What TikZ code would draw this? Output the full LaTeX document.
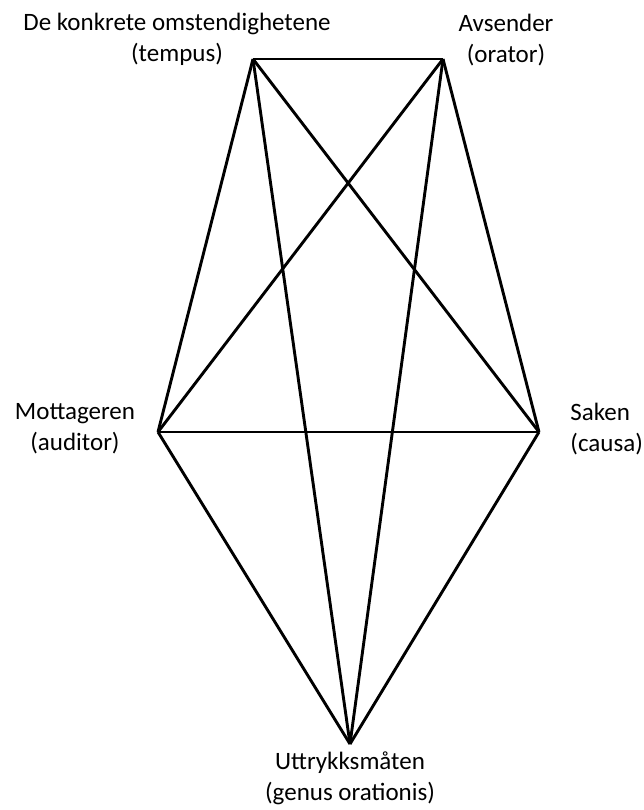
\documentclass[tikz,border=0pt]{standalone}
\usepackage{fontspec}
\setmainfont{Carlito}
\usetikzlibrary{calc}

\begin{document}
\begin{tikzpicture}[x=1pt, y=1pt, line width=2.9pt, line join=miter,
    etikett/.style={align=center, font=\fontsize{25}{31}\selectfont, inner sep=0pt}]
    \useasboundingbox (0, 0) rectangle (643, -810);

    % hjørnene i femkanten
    \coordinate (T) at (253, -59);
    \coordinate (O) at (443, -59);
    \coordinate (A) at (158, -432);
    \coordinate (C) at (539, -432);
    \coordinate (G) at (350, -744);

    % alle forbindelser
    \foreach \a/\b in {T/O, T/A, T/C, T/G, O/A, O/C, O/G, A/C, A/G, C/G} {
        \draw (\a) -- (\b);
    }

    % tekstene
    \node[etikett] (tempus) at (177, -39) {De konkrete omstendighetene\\(tempus)};
    \node[etikett] (orator) at (506, -40) {Avsender\\(orator)};
    \node[etikett] (auditor) at (75, -429) {Mottageren\\(auditor)};
    \node[etikett, align=left, anchor=west] (causa) at (569, -429) {Saken\\(causa)};
    \node[etikett] (genus) at (350, -778) {Uttrykksmåten\\(genus orationis)};
\end{tikzpicture}
\end{document}
